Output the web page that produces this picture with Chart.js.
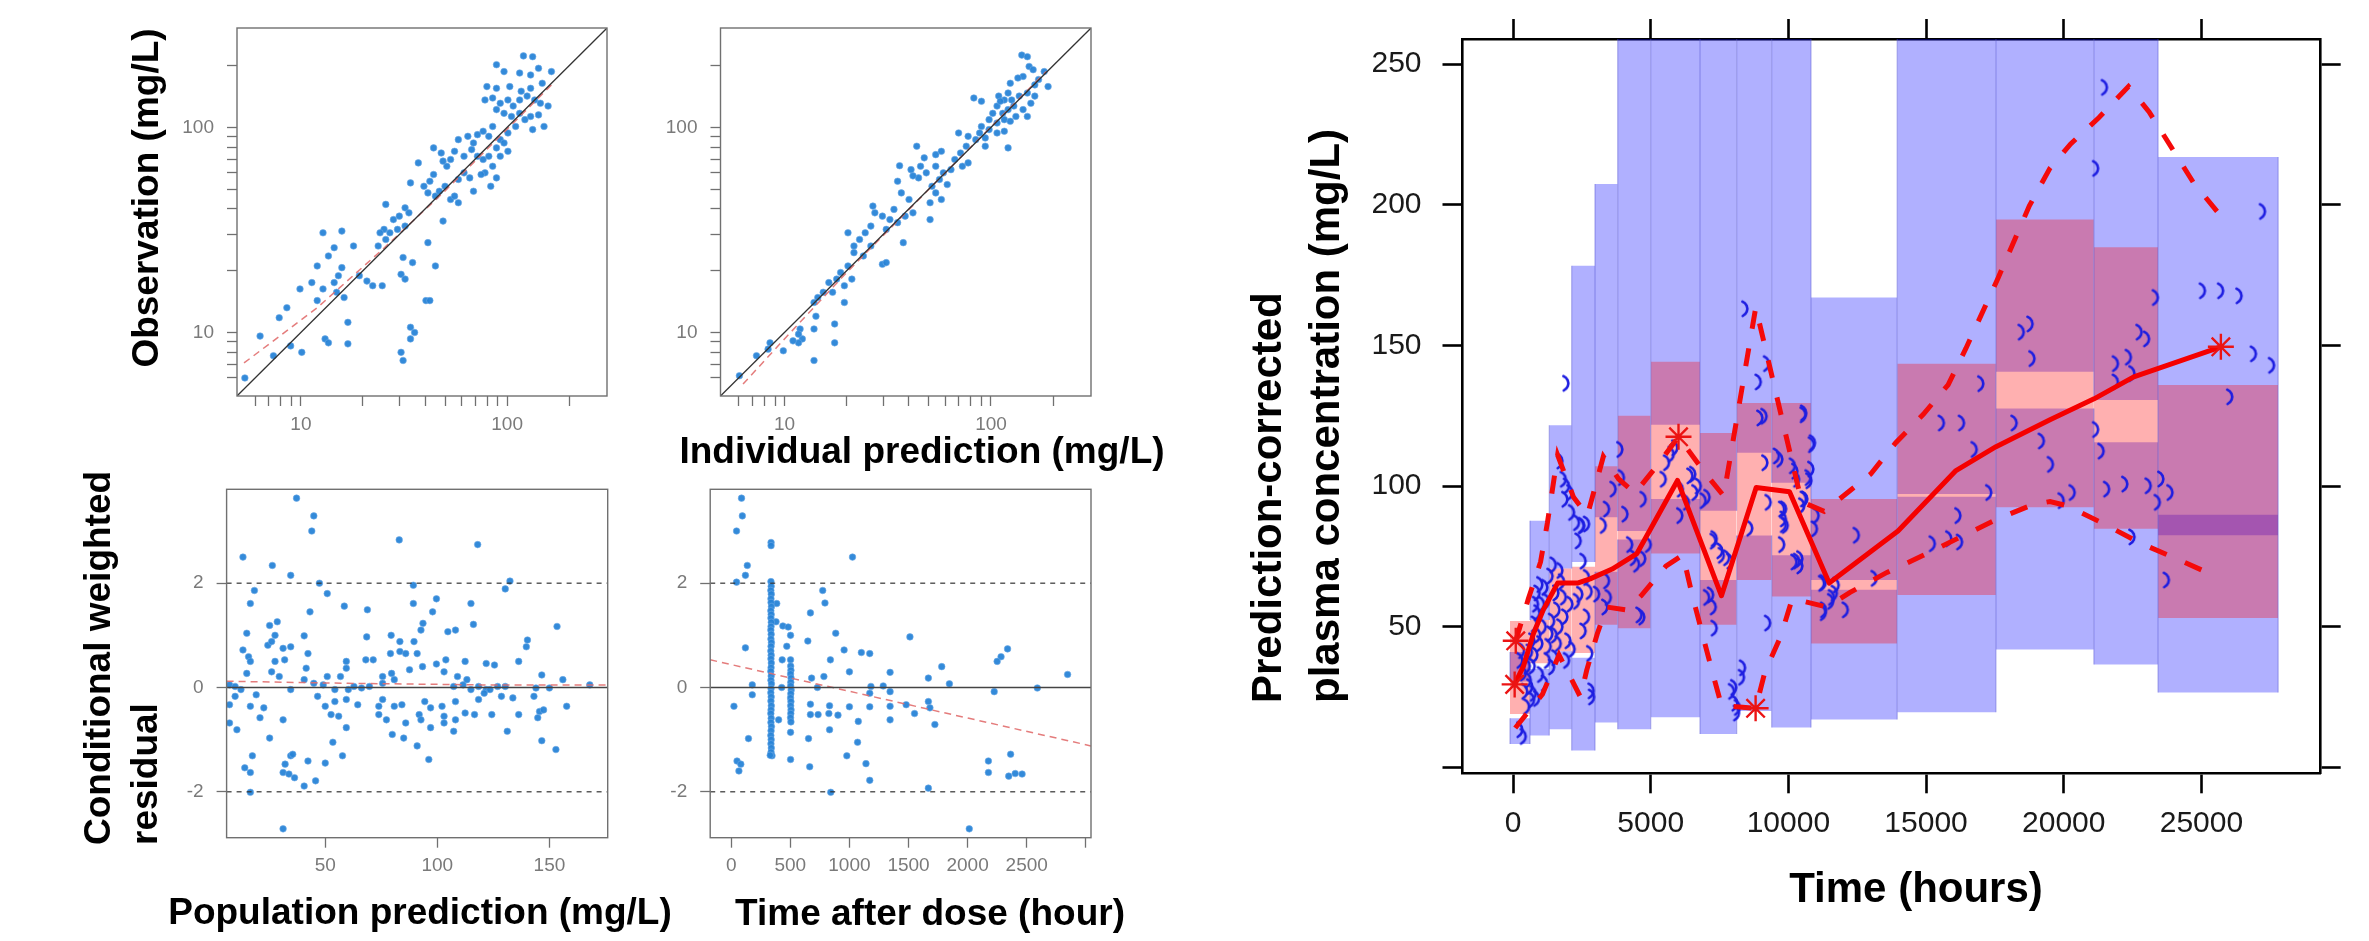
<!DOCTYPE html>
<html>
<head>
<meta charset="utf-8">
<script src="https://cdn.jsdelivr.net/npm/chart.js@4.4.1/dist/chart.umd.min.js"></script>
<style>
  html, body { margin: 0; padding: 0; background: #fff; }
  #wrap { position: relative; width: 2369px; height: 941px; overflow: hidden; }
  canvas { position: absolute; left: 0; top: 0; }
</style>
</head>
<body>
<div id="wrap">
  <canvas id="obsPred" width="2369" height="941"></canvas>
  <canvas id="obsIpred" width="2369" height="941"></canvas>
  <canvas id="cwresPred" width="2369" height="941"></canvas>
  <canvas id="cwresTime" width="2369" height="941"></canvas>
  <canvas id="vpc" width="2369" height="941"></canvas>
</div>
<script>
// ---- goodness of fit data ----
const obsVsPred = [
  [88.8,202],[120,223],[133,221],[96.6,187],[115,184],[130,180],[142,194],[164,187],
  [79.8,158],[88.8,155],[103,158],[117,150],[130,155],[148,164],
  [78.1,136],[85.1,139],[92.6,131],[100.9,136],[107,127],[115,136],[125,142],[136,136],[145,131],[158,127],
  [88.8,122],[96.6,117],[105,113],[115,117],[122,109],[130,113],[142,115],[151,101],[133,97.5],[110,101],
  [100.9,93.9],[92.6,87.1],[85.1,101],[81.5,90.4],[76.5,95.7],[68.7,83.9],[71.8,92.1],[64.5,90.4],[58,87.1],
  [55.6,76.4],[61.8,72.3],[67.3,77.9],[71.8,72.3],[76.5,69.7],[81.5,72.3],[88.8,79.4],[96.6,83.9],[100.9,76.4],[92.6,72.3],
  [85.1,64.6],[78.1,60],[74.8,58.9],[88.8,56.7],[83.3,51.6],[68.7,48.8],[65.9,56.7],[61.8,60],[58,55.7],
  [53.2,69.7],[51,64.6],[47.9,75],[44,79.4],[48.9,68.4],[44,58.9],[42.2,54.6],[39.5,51.6],[41.3,47.9],[44.9,46.2],[46.9,48.8],[50,51.6],
  [53.2,44.5],[58,42.9],[55.6,46.2],[37.1,67.1],[34,53.6],[32,40.5],[33.4,38.3],[30,36.9],[28.1,35.5],[25.8,42.1],
  [25.3,31.8],[24.2,30.6],[27,30.6],[29.4,31.8],[32,33],[25.8,28.4],[23.7,26.4],[48.9,34.9],[41.3,27.4],[44.9,21.1],
  [31.3,23.2],[34.8,21.9],[30.6,19.2],[32,18.2],[40.4,14.3],[42.2,14.3],[34,10.6],[35.6,10],[34,9.3],[30.6,8.0],[31.3,7.3],
  [12.8,30.6],[15.8,31.2],[14.5,25.9],[18,26.4],[13.6,23.6],[12,21.1],[15.8,20.7],[15.2,18.9],[14.5,17.5],[19.2,18.9],
  [20.9,17.8],[22.3,16.9],[24.8,16.9],[11.3,17.5],[12.8,16.3],[14.9,15.7],[16.2,14.8],[9.9,16.3],[12,14.3],[8.55,13.2],
  [7.85,11.8],[8.92,8.6],[10.1,8.0],[13.1,9.3],[13.6,8.9],[16.9,11.2],[16.9,8.8],[7.36,7.7],[6.34,9.6],[5.35,6.0]
];
const obsVsIpred = [
  [141,225],[150,221],[153,198],[160,191],[143,177],[124,164],[135,174],[163,161],[170,171],[181,187],[189,158],
  [109,142],[121,147],[116,136],[126,136],[137,142],[150,147],[107,127],[111,134],[89.9,134],[82.6,139],
  [102,117],[114,117],[121,122],[129,127],[143,122],[156,131],[163,142],[97.9,109],[107,105],[116,109],[124,107],[132,113],[150,113],
  [89.9,101],[97.9,97.5],[88.1,93.9],[93.8,88.8],[107,93.9],[116,95.7],[121,79.4],[84.4,87.1],[77.5,90.4],[69.7,93.9],[75.9,80.9],[93.8,80.9],
  [71.2,75],[66.8,69.7],[72.7,64.6],[77.5,67.1],[64,62.2],[58.8,60],[54,64.6],[56.3,55.7],[61.4,52.6],[51.8,51.6],[54,47.9],[57.5,44.5],[50.7,42.9],
  [43.7,80.9],[57.5,76.4],[47.5,71],[54,73.6],[45.6,64.6],[48.6,60],[44.6,56.7],[41,62.2],[41.9,58],[36.1,65],[35.3,54.6],[36.8,47.9],[40.1,44.5],
  [33.9,39.8],[41.9,38.3],[38.4,36.9],[50.7,35.5],[35.3,34.3],[32.4,35.5],[31.1,31.8],[29.8,36.9],[27.4,38.3],[26.8,41.3],[26.2,33],[24.6,30.6],
  [23.1,28.4],[21.7,26.4],[20.3,30.6],[21.7,24.5],[24.1,23.6],[26.2,26.4],[37.6,27.4],[29.8,21.5],[31.1,21.9],[20.3,21.1],[18.7,19.6],[17.9,18.2],
  [19.5,16.9],[16.4,17.5],[15.4,15.7],[14.5,14.8],[13.9,14],[17.1,15.7],[19.5,14],[21.2,18.2],[14.2,12],[13.9,10.4],[17.5,11],[17.5,8.9],
  [11.9,10.4],[12.2,9.3],[11.7,8.9],[11,9.1],[9.87,8.14],[8.51,8.9],[8.33,8.29],[7.32,7.7],[6.05,6.15],[13.9,7.3],[11.7,9.81]
];
const cwresVsPred = [
  [37.2,3.63],[44.9,3.29],[44.0,3.0],[83.0,2.83],[118.0,2.74],[13.3,2.5],[26.4,2.34],[34.6,2.15],[47.4,2.0],[18.4,1.86],
  [50.9,1.8],[89.3,1.96],[130.3,1.89],[132.4,2.04],[16.6,1.61],[89.3,1.61],[99.6,1.7],[58.5,1.56],[68.8,1.49],[43.2,1.45],
  [97.9,1.45],[93.6,1.23],[92.7,1.1],[115,1.61],[116.1,1.21],[104.7,1.07],[108.1,1.1],[153.4,1.17],[140.2,0.91],[25.2,1.19],
  [28.6,1.26],[15.0,1.04],[27.6,1.0],[40.6,0.99],[68.5,0.97],[79.4,1.0],[83.3,0.88],[89.6,0.88],[24.4,0.81],[26.1,0.88],
  [31.2,0.75],[34.6,0.78],[13.3,0.72],[15.8,0.59],[16.6,0.5],[27.6,0.5],[31.9,0.53],[42.3,0.65],[68.1,0.53],[71.4,0.53],
  [79.1,0.65],[83.3,0.69],[85.9,0.65],[91.0,0.65],[59.4,0.5],[59.4,0.37],[41.5,0.37],[93.4,0.4],[99.6,0.45],[103.8,0.53],
  [112.4,0.5],[121.8,0.46],[125.5,0.43],[136.3,0.5],[139.7,0.78],[79.6,0.27],[87.6,0.34],[103,0.3],[15.0,0.27],[26.1,0.3],
  [29.5,0.21],[40.6,0.15],[50.9,0.21],[56.8,0.21],[75.6,0.21],[80.8,0.15],[109,0.21],[113.2,0.15],[146.6,0.24],[156,0.15],
  [7.3,0.05],[9.8,0.02],[12.4,-0.04],[34.6,-0.04],[44.9,0.08],[49.1,0.05],[54.3,-0.04],[60.3,-0.04],[62.8,0.02],[66.2,-0.01],
  [69.7,0.02],[75.6,0.08],[107.3,0.02],[111.5,0.05],[115,-0.04],[118.4,0.02],[121.8,-0.04],[126.9,0.02],[130.3,0.02],[144,-0.01],
  [150,-0.01],[168,0.05],[7.3,-0.33],[9.8,-0.17],[16.6,-0.36],[19.2,-0.14],[22.6,-0.39],[46.6,-0.17],[50,-0.36],[54.3,-0.27],
  [59.4,-0.23],[64.5,-0.33],[73.9,-0.36],[75.6,-0.23],[80.8,-0.36],[84.2,-0.33],[94.4,-0.27],[97,-0.39],[102.1,-0.36],[108.1,-0.27],
  [118.4,-0.23],[120.9,-0.11],[123.5,-0.04],[128.6,-0.17],[133.7,-0.2],[143.1,-0.17],[157.7,-0.36],[136.3,-0.52],[124.3,-0.52],[116.6,-0.52],
  [112.4,-0.49],[108.1,-0.62],[103,-0.55],[91.9,-0.52],[73.9,-0.52],[77.3,-0.62],[52.6,-0.52],[56,-0.55],[7.3,-0.68],[10.6,-0.81],
  [20.9,-0.58],[31.2,-0.62],[59.4,-0.77],[85.9,-0.68],[92.7,-0.62],[97,-0.77],[103,-0.68],[107.3,-0.84],[144.8,-0.58],[145.6,-0.46],
  [147.4,-0.43],[79.9,-0.9],[85,-0.97],[25.2,-0.97],[131.2,-0.84],[91,-1.12],[53.4,-1.05],[146.6,-1.02],[152.9,-1.19],[96.2,-1.38],
  [17.5,-1.31],[14.1,-1.54],[16.6,-1.63],[32.1,-1.47],[34.6,-1.31],[35.5,-1.28],[31.2,-1.63],[33.8,-1.66],[36.3,-1.73],[42.3,-1.41],
  [50,-1.45],[57.7,-1.31],[40.6,-1.89],[45.7,-1.79],[16.6,-2.01],[31.2,-2.71]
];
const cwresVsTime = [
  [87,3.63],[94,3.29],[45,3.0],[337,2.78],[337,2.72],[136,2.34],[120,2.15],[45,2.02],[1026,2.5],[774,1.86],
  [793,1.62],[385,1.61],[670,1.43],[379,1.26],[437,1.18],[482,1.16],[502,1.0],[884,1.04],[1512,0.97],[648,0.89],
  [470,0.79],[120,0.76],[955,0.72],[1101,0.67],[1172,0.65],[2338,0.74],[2283,0.59],[2250,0.5],[839,0.53],[431,0.53],
  [502,0.53],[1000,0.3],[1344,0.29],[1781,0.4],[2846,0.25],[784,0.21],[680,0.18],[1668,0.18],[178,0.05],[427,0.0],
  [729,0.0],[1182,0.02],[1286,0.03],[1846,0.07],[2590,-0.01],[178,-0.14],[1344,-0.08],[2225,-0.08],[1172,-0.11],[23,-0.36],
  [670,-0.32],[832,-0.35],[1000,-0.37],[1172,-0.37],[1344,-0.36],[1480,-0.33],[1668,-0.27],[1681,-0.39],[670,-0.52],[735,-0.52],
  [826,-0.5],[903,-0.53],[1551,-0.5],[401,-0.62],[1075,-0.65],[1344,-0.62],[1723,-0.71],[832,-0.81],[146,-0.98],[654,-0.98],
  [502,-0.86],[1069,-1.05],[978,-1.31],[502,-1.38],[2364,-1.28],[2176,-1.41],[49,-1.41],[81,-1.47],[65,-1.6],[664,-1.52],
  [1140,-1.46],[2176,-1.63],[2348,-1.7],[2403,-1.65],[2461,-1.66],[1172,-1.78],[1668,-1.93],[842,-2.01],[2014,-2.71],
  [336,2.03],[338,1.94],[335,1.86],[339,1.79],[336,1.7],[337,1.63],[340,1.55],[335,1.47],[338,1.4],[336,1.33],
  [339,1.25],[337,1.17],[335,1.1],[338,1.02],[336,0.93],[340,0.86],[337,0.79],[335,0.7],[338,0.62],[336,0.55],
  [339,0.47],[337,0.38],[335,0.31],[338,0.22],[336,0.14],[340,0.07],[337,-0.02],[335,-0.1],[338,-0.18],[336,-0.26],
  [339,-0.35],[337,-0.43],[335,-0.5],[338,-0.59],[336,-0.67],[340,-0.75],[337,-0.83],[335,-0.92],[338,-1.0],[336,-1.08],
  [339,-1.16],[337,-1.24],[345,-1.31],[330,-1.3],
  [503,0.41],[505,0.33],[502,0.26],[506,0.18],[504,0.1],[503,0.03],[507,-0.05],[504,-0.12],[502,-0.2],[505,-0.27],
  [503,-0.35],[506,-0.43],[504,-0.5],[502,-0.58],[505,-0.66]
];

// reference / smooth lines
const identityLine = [[4.9, 4.9], [305, 305]];
const obsPredTrend = [[5.3, 7.1], [12, 13.2], [25, 25.5], [50, 49], [100, 98], [165, 162]];
const obsIpredTrend = [[6.3, 5.6], [10, 9.3], [20, 19.6], [60, 60], [185, 187]];
const cwresPredTrend = [[6, 0.12], [60, 0.08], [120, 0.05], [176, 0.05]];
const cwresTimeTrend = [[-178, 0.53], [3044, -1.12]];

// tick values and labels
const logTicks = [6, 7, 8, 9, 10, 20, 30, 40, 50, 60, 70, 80, 90, 100, 200];
const logLabels = [10, 100];
const predTicks = [50, 100, 150];
const residTicks = [-2, 0, 2];
const timeTicks = [0, 500, 1000, 1500, 2000, 2500, 3000];
const timeLabels = [0, 500, 1000, 1500, 2000, 2500];
const vpcTimeTicks = [0, 5000, 10000, 15000, 20000, 25000];
const vpcConcTicks = [0, 50, 100, 150, 200, 250];
const vpcConcLabels = [50, 100, 150, 200, 250];

// ---- VPC data ----
const binLo = [-109, 617, 1318, 2131, 2977, 3802, 5000, 6790, 8122, 9393, 10820, 13952, 17536, 21093, 23424];
const binHi = [617, 1318, 2131, 2977, 3802, 5000, 6790, 8122, 9393, 10820, 13952, 17536, 21093, 23424, 27785];
const p5CiLo = [8.3, 11.3, 13.6, 6, 16, 13.6, 17.8, 11.9, 20, 14.2, 17, 19.6, 41.9, 36.6, 26.6];
const p5CiHi = [17.5, 35, 41.3, 39, 69.5, 81, 95.4, 66.6, 82.4, 75.4, 63.1, 96.2, 127.6, 115.6, 89.8];
const p95CiLo = [30.5, 52.4, 70.7, 73, 88.9, 84, 121.8, 91.2, 111.8, 101.2, 66.6, 97.2, 140.6, 130.6, 82.5];
const p95CiHi = [41, 87.7, 121.6, 178.3, 207.4, 260, 260, 260, 260, 260, 167, 260, 260, 260, 217];
const p50CiLo = [19, 37, 41.3, 40.7, 50.7, 49.5, 76, 50.7, 66.6, 60.7, 44, 61.3, 92.5, 84.8, 53.1];
const p50CiHi = [52, 52.4, 70.7, 71.3, 107, 125, 144.2, 118.9, 129.5, 129.5, 95.4, 143.5, 194.7, 184.9, 135.9];

const obsMedian = [
  [60, 29.5], [380, 36], [740, 47.5], [1100, 56], [1620, 65.5], [2340, 65.5], [2800, 67], [3600, 70.5], [4500, 76],
  [5973, 102], [7570, 61], [8830, 99.5], [10040, 98], [11480, 65.5], [13980, 84], [16085, 105.5], [17540, 114],
  [19500, 123.6], [21100, 131], [22540, 138.8], [25705, 149.5]
];
const obsP95 = [
  [100, 45], [560, 60], [1000, 73], [1250, 87], [1620, 111], [2200, 96], [2700, 89.5], [3280, 110.5], [3835, 102.5],
  [4430, 97.5], [5130, 106], [6010, 117.5], [6970, 104.7], [7650, 96.5], [8815, 163.5], [10480, 94.4], [11300, 91],
  [12990, 104.3], [13900, 115.4], [14900, 125.5], [15800, 136], [16450, 149], [17600, 173.6], [18750, 199.6],
  [19500, 213], [20250, 221.6], [21280, 231], [22350, 242], [23100, 233], [24700, 208], [25700, 196]
];
const obsP5 = [
  [80, 14], [1070, 26], [1670, 40], [2450, 25], [2675, 34.5], [3061, 47.5], [3400, 57], [4100, 56], [4650, 61],
  [5550, 71.5], [6170, 75.5], [6489, 62], [6834, 49], [7195, 35.5], [7570, 22], [8810, 21], [9150, 34], [9720, 46.5],
  [10140, 60], [11400, 57], [12240, 62.2], [13580, 69.3], [14880, 75.3], [16150, 81.4], [17600, 88.3], [18870, 93.4],
  [19500, 94.5], [20130, 93], [21450, 86.6], [22760, 79.8], [24080, 74.2], [25500, 68]
];
const outsideMarks = [[100, 45], [60, 29.5], [6010, 117.5], [8810, 21], [25705, 149.5]];

const vpcObs = [
  [314,41.5],[254,38],[375,33.5],[557,31],[617,28.7],[738,26.3],[678,24],[860,24.5],[375,11],[254,13.4],
  [497,21.6],[430,27],[520,36],[600,41],[690,45],[780,51],[880,55],[980,65],[1160,64],[1220,59],
  [1040,58],[1405,52],[1344,47.5],[980,44],[1280,43],[1525,39],[1405,35.7],[1100,50],[900,47],[800,40],
  [700,36],[1000,33],[1150,30],[1250,38],[880,62],[820,58],[1707,70],[1768,66],[1830,60.5],[2070,58],
  [1888,53.5],[1707,50],[1647,44],[1949,38],[1465,72],[1560,62],[1600,56],[1500,47],[1350,68],[2000,45],[2150,42],
  [2370,80.5],[2550,73.3],[2675,67.5],[2430,61.5],[2310,59],[2675,53.5],[2550,48.5],[2790,40.5],[2855,25],[2490,86],
  [3280,86],[3400,66.3],[3465,60.4],[3340,57],[3040,61.6],[4240,79.2],[4370,74.5],[4490,72.2],[4680,53.4],[4915,79.2],
  [1925,136.5],[3885,113],[1707,108.9],[1830,102.4],[1949,100],[2070,97.7],[1888,95.3],[2130,90.6],[2310,87],[2490,85.9],
  [2675,86.5],[3640,98.9],[3400,91.8],[4070,90],[4730,95.3],[5580,108.3],[5460,102.4],[5880,113.6],[6060,89.5],[6300,94.2],
  [3940,103],[4715,74.2],[4580,54.2],[5750,111.3],[6080,98.9],[6530,104.2],[7050,96],[7310,81.3],[7570,75.4],[7180,61.3],
  [7310,49.5],[8020,28.4],[8340,35.4],[8150,21.3],[9120,124.8],[9570,110.7],[10150,107.2],[9830,91.9],[9890,86],[10210,73],
  [9250,51.3],[10600,95.4],[2840,27.2],[2770,62.5],
  [8425,163],[9210,143.5],[8910,137],[8970,124.2],[9150,108.3],[9695,109.5],[10540,125.3],[10840,114.7],[10240,105.3],[10300,102.4],
  [10720,103],[6430,103.6],[6610,97.7],[6910,94.8],[6730,100],[9270,94.2],[9760,91.8],[9820,88.3],[10490,93],
  [7275,80.4],[7515,77],[7760,74.5],[7880,73.3],[7035,60.4],[7275,57],[8600,85],[8300,32],[7940,27],[8060,22.8],
  [8120,19.3],[9760,79.2],[10300,73.3],[10420,71.6],[9820,86.3],[11270,65.7],[11570,60.4],[11270,55],
  [10560,126],[10880,115.4],[10820,106],[10750,101.9],[10550,95.4],[11010,89.5],[10950,84.8],[10420,74.2],[11210,65.4],[11740,64.8],
  [11670,61.9],[11540,59],[11280,56],[12070,56],[12470,82.5],[13120,67.2],[15560,122.4],[16290,122.4],[16750,113],[17280,97.7],
  [16160,89.5],[15230,79.5],[15830,81.3],[16220,80.1],[18200,122.4],[19190,116],[19520,107.7],[20310,97.7],[19910,94.8],[21160,120.1],
  [21360,112.4],[21560,98.9],[22220,100.7],[23070,100.1],[23530,102.5],[23860,97.7],[23400,94.2],[22480,81.9],[23730,66.6],
  [21480,241.7],[21160,212.9],[16990,136.4],[18460,154.7],[18780,157.6],[18850,145.3],[22740,154.7],[23010,152.3],[21880,143.5],[22350,145.8],
  [22480,140],[21880,137],[23330,167],[25040,169.4],[25700,169.4],[26370,167.6],[27220,197.6],[26890,147],[27550,142.9],[26030,131.7]
];

// ---- layout ----
const W = 2369, H = 941;
const FONT = "'Liberation Sans', Arial, Helvetica, sans-serif";
Chart.defaults.font.family = FONT;

const areaObsPred = {l: 237, t: 28, r: 607, b: 396};
const areaObsIpred = {l: 720.5, t: 28, r: 1091, b: 396};
const areaCwresPred = {l: 226.6, t: 489.3, r: 607.7, b: 837.7};
const areaCwresTime = {l: 710.2, t: 489.3, r: 1091, b: 837.7};
const areaVpc = {l: 1462.5, t: 33.3, r: 2320.7, b: 773.3};

// room kept for tick marks + labels (labels are clipped to the axis box)
const GOF_Y_W = 80, GOF_X_H = 55;
const VPC_Y_W = 140, VPC_X_H = 85, VPC_OUTER = 20;

function pairs(list) {
  return list.map(([x, y]) => ({x, y}));
}

function frame(color, width) {
  return {
    id: 'frame',
    afterDraw(chart) {
      const {ctx, chartArea: a} = chart;
      ctx.save();
      ctx.strokeStyle = color;
      ctx.lineWidth = width;
      ctx.strokeRect(a.left, a.top, a.right - a.left, a.bottom - a.top);
      ctx.restore();
    },
  };
}

// axis titles, placed in page coordinates
function pageText(items) {
  return {
    id: 'pageText',
    afterDraw(chart) {
      const ctx = chart.ctx;
      items.forEach((it) => {
        ctx.save();
        ctx.font = it.font;
        ctx.fillStyle = '#000';
        ctx.textAlign = it.align || 'center';
        ctx.textBaseline = 'middle';
        ctx.translate(it.x, it.y);
        if (it.vertical) ctx.rotate(-Math.PI / 2);
        it.text.forEach((line, i) => ctx.fillText(line, 0, i * (it.lineHeight || 0)));
        ctx.restore();
      });
    },
  };
}

function gofAxis(pos, type, min, max, ticks, labels) {
  const horiz = pos === 'bottom';
  return {
    type: type,
    position: pos,
    min: min,
    max: max,
    afterBuildTicks: (s) => { s.ticks = ticks.map((value) => ({value})); },
    afterFit: (s) => { if (horiz) s.height = GOF_X_H; else s.width = GOF_Y_W; },
    ticks: {
      autoSkip: false, maxRotation: 0, color: '#7a7a7a', padding: horiz ? 7 : 13,
      font: {size: 19},
      callback: (v) => (labels.includes(v) ? String(v) : ''),
    },
    grid: {drawOnChartArea: false, tickLength: 10, tickColor: '#707070', tickWidth: 1.3},
    border: {display: false},
  };
}

function dots(list) {
  return {
    data: pairs(list), order: 5,
    pointRadius: 3.3, pointBackgroundColor: 'rgba(40,132,215,0.95)',
    pointBorderColor: 'rgba(110,170,230,0.6)', pointBorderWidth: 1,
  };
}

function refLine(list, color, width, dash) {
  return {
    type: 'line', data: pairs(list), order: 2, borderColor: color, borderWidth: width,
    borderDash: dash || [], pointRadius: 0, fill: false, tension: 0,
  };
}

function gofChart(id, area, scales, datasets, texts) {
  return new Chart(document.getElementById(id), {
    type: 'scatter',
    data: {datasets},
    options: {
      responsive: false, animation: false, events: [],
      layout: {autoPadding: false, padding: {left: area.l - GOF_Y_W, top: area.t, right: W - area.r, bottom: H - area.b - GOF_X_H}},
      plugins: {legend: {display: false}, tooltip: {enabled: false}},
      scales: scales,
    },
    plugins: [frame('#707070', 1.4), pageText(texts)],
  });
}

const TITLE = 'bold 37px ' + FONT;
const TREND = 'rgba(225,110,110,0.9)';

gofChart('obsPred', areaObsPred, {
  x: gofAxis('bottom', 'logarithmic', 4.9, 305, logTicks, logLabels),
  y: gofAxis('left', 'logarithmic', 4.9, 305, logTicks, logLabels),
}, [
  dots(obsVsPred),
  refLine(identityLine, '#333', 1.3),
  refLine(obsPredTrend, TREND, 1.5, [7, 5]),
], [
  {text: ['Observation (mg/L)'], x: 148, y: 198, vertical: true, font: TITLE},
]);

gofChart('obsIpred', areaObsIpred, {
  x: gofAxis('bottom', 'logarithmic', 4.9, 305, logTicks, logLabels),
  y: gofAxis('left', 'logarithmic', 4.9, 305, logTicks, logLabels),
}, [
  dots(obsVsIpred),
  refLine(identityLine, '#333', 1.3),
  refLine(obsIpredTrend, TREND, 1.5, [7, 5]),
], [
  {text: ['Individual prediction (mg/L)'], x: 922, y: 453, font: TITLE},
]);

gofChart('cwresPred', areaCwresPred, {
  x: gofAxis('bottom', 'linear', 6, 176, predTicks, predTicks),
  y: gofAxis('left', 'linear', -2.88, 3.8, residTicks, residTicks),
}, [
  dots(cwresVsPred),
  refLine([[6, 0], [176, 0]], '#444', 1.6),
  refLine([[6, 2], [176, 2]], '#333', 1.2, [5, 5]),
  refLine([[6, -2], [176, -2]], '#333', 1.2, [5, 5]),
  refLine(cwresPredTrend, TREND, 1.5, [7, 5]),
], [
  {text: ['Conditional weighted', 'residual'], x: 100, y: 845, vertical: true, align: 'left', lineHeight: 47, font: TITLE},
  {text: ['Population prediction (mg/L)'], x: 420, y: 914, font: TITLE},
]);

gofChart('cwresTime', areaCwresTime, {
  x: gofAxis('bottom', 'linear', -178, 3044, timeTicks, timeLabels),
  y: gofAxis('left', 'linear', -2.88, 3.8, residTicks, residTicks),
}, [
  dots(cwresVsTime),
  refLine([[-178, 0], [3044, 0]], '#444', 1.6),
  refLine([[-178, 2], [3044, 2]], '#333', 1.2, [5, 5]),
  refLine([[-178, -2], [3044, -2]], '#333', 1.2, [5, 5]),
  refLine(cwresTimeTrend, TREND, 1.5, [7, 5]),
], [
  {text: ['Time after dose (hour)'], x: 930, y: 915, font: TITLE},
]);

// ---- VPC ----
function vpcAxis(pos, min, max, ticks, labels) {
  const horiz = pos === 'bottom' || pos === 'top';
  const outer = pos === 'top' || pos === 'right';
  return {
    type: 'linear',
    position: pos,
    axis: horiz ? 'x' : 'y',
    min: min,
    max: max,
    afterBuildTicks: (s) => { s.ticks = ticks.map((value) => ({value})); },
    afterFit: (s) => {
      const size = outer ? VPC_OUTER : (horiz ? VPC_X_H : VPC_Y_W);
      if (horiz) s.height = size; else s.width = size;
    },
    ticks: {
      display: !outer, autoSkip: false, maxRotation: 0, color: '#1a1a1a',
      padding: horiz ? 12 : 21, font: {size: 30},
      callback: (v) => (labels.includes(v) ? String(v) : ''),
    },
    grid: {drawOnChartArea: false, tickLength: 20, tickColor: '#000', tickWidth: 2.6},
    border: {color: '#000', width: 2.6},
  };
}

// the observed-value glyph of the original plot, a small ")" crescent
function moonMark() {
  const c = document.createElement('canvas');
  c.width = 16;
  c.height = 22;
  const g = c.getContext('2d');
  g.strokeStyle = 'rgb(30,30,225)';
  g.lineWidth = 2.6;
  g.lineCap = 'round';
  g.beginPath();
  g.arc(2.5, 11, 7.8, -1.2, 1.15);
  g.stroke();
  return c;
}

const BLUE = 'rgba(0,0,255,0.31)';
const RED = 'rgba(255,0,0,0.31)';

function band(x0, x1, lo, hi, color, order) {
  return {
    type: 'line', order: order, data: [{x: x0, y: hi}, {x: x1, y: hi}],
    fill: {value: lo}, backgroundColor: color, borderWidth: 0, pointRadius: 0,
  };
}

const vpcSets = [];
const edges = [];
binLo.forEach((x0, i) => {
  const x1 = binHi[i];
  vpcSets.push(band(x0, x1, p5CiLo[i], p5CiHi[i], BLUE, 10));
  vpcSets.push(band(x0, x1, p95CiLo[i], p95CiHi[i], BLUE, 10));
  vpcSets.push(band(x0, x1, p50CiLo[i], p50CiHi[i], RED, 9));
  [[p5CiLo[i], p5CiHi[i]], [p95CiLo[i], p95CiHi[i]]].forEach(([lo, hi]) => {
    edges.push({x: x0, y: lo}, {x: x0, y: hi}, {x: x0, y: null});
    edges.push({x: x1, y: lo}, {x: x1, y: hi}, {x: x1, y: null});
  });
});
vpcSets.push({type: 'line', order: 8, data: edges, borderColor: 'rgba(80,80,210,0.45)', borderWidth: 1.2, pointRadius: 0, fill: false, spanGaps: false});
vpcSets.push({type: 'scatter', order: 5, data: pairs(vpcObs), pointStyle: moonMark(), pointRadius: 6});
vpcSets.push({type: 'line', order: 3, data: pairs(obsMedian), borderColor: 'rgb(245,0,0)', borderWidth: 5, borderJoinStyle: 'round', pointRadius: 0, fill: false, tension: 0});
vpcSets.push({type: 'line', order: 3, data: pairs(obsP95), borderColor: 'rgb(245,10,10)', borderWidth: 5, borderDash: [18, 20], pointRadius: 0, fill: false, tension: 0});
vpcSets.push({type: 'line', order: 3, data: pairs(obsP5), borderColor: 'rgb(245,10,10)', borderWidth: 5, borderDash: [18, 20], pointRadius: 0, fill: false, tension: 0});
vpcSets.push({type: 'scatter', order: 1, data: pairs(outsideMarks), pointStyle: 'star', pointRadius: 13, pointBorderColor: 'rgb(235,20,20)', pointBorderWidth: 2.4});

const VTITLE = 'bold 42px ' + FONT;
new Chart(document.getElementById('vpc'), {
  type: 'scatter',
  data: {datasets: vpcSets},
  options: {
    responsive: false, animation: false, events: [],
    layout: {autoPadding: false, padding: {
      left: areaVpc.l - VPC_Y_W, top: areaVpc.t - VPC_OUTER,
      right: W - areaVpc.r - VPC_OUTER, bottom: H - areaVpc.b - VPC_X_H,
    }},
    plugins: {legend: {display: false}, tooltip: {enabled: false}},
    scales: {
      x: vpcAxis('bottom', -1834, 29330, vpcTimeTicks, vpcTimeTicks),
      x2: vpcAxis('top', -1834, 29330, vpcTimeTicks, []),
      y: vpcAxis('left', -2.1, 258.9, vpcConcTicks, vpcConcLabels),
      y2: vpcAxis('right', -2.1, 258.9, vpcConcTicks, []),
    },
  },
  plugins: [pageText([
    {text: ['Prediction-corrected', 'plasma concentration (mg/L)'], x: 1269, y: 703, vertical: true, align: 'left', lineHeight: 58, font: VTITLE},
    {text: ['Time (hours)'], x: 1916, y: 890, font: VTITLE},
  ])],
});
</script>
</body>
</html>
